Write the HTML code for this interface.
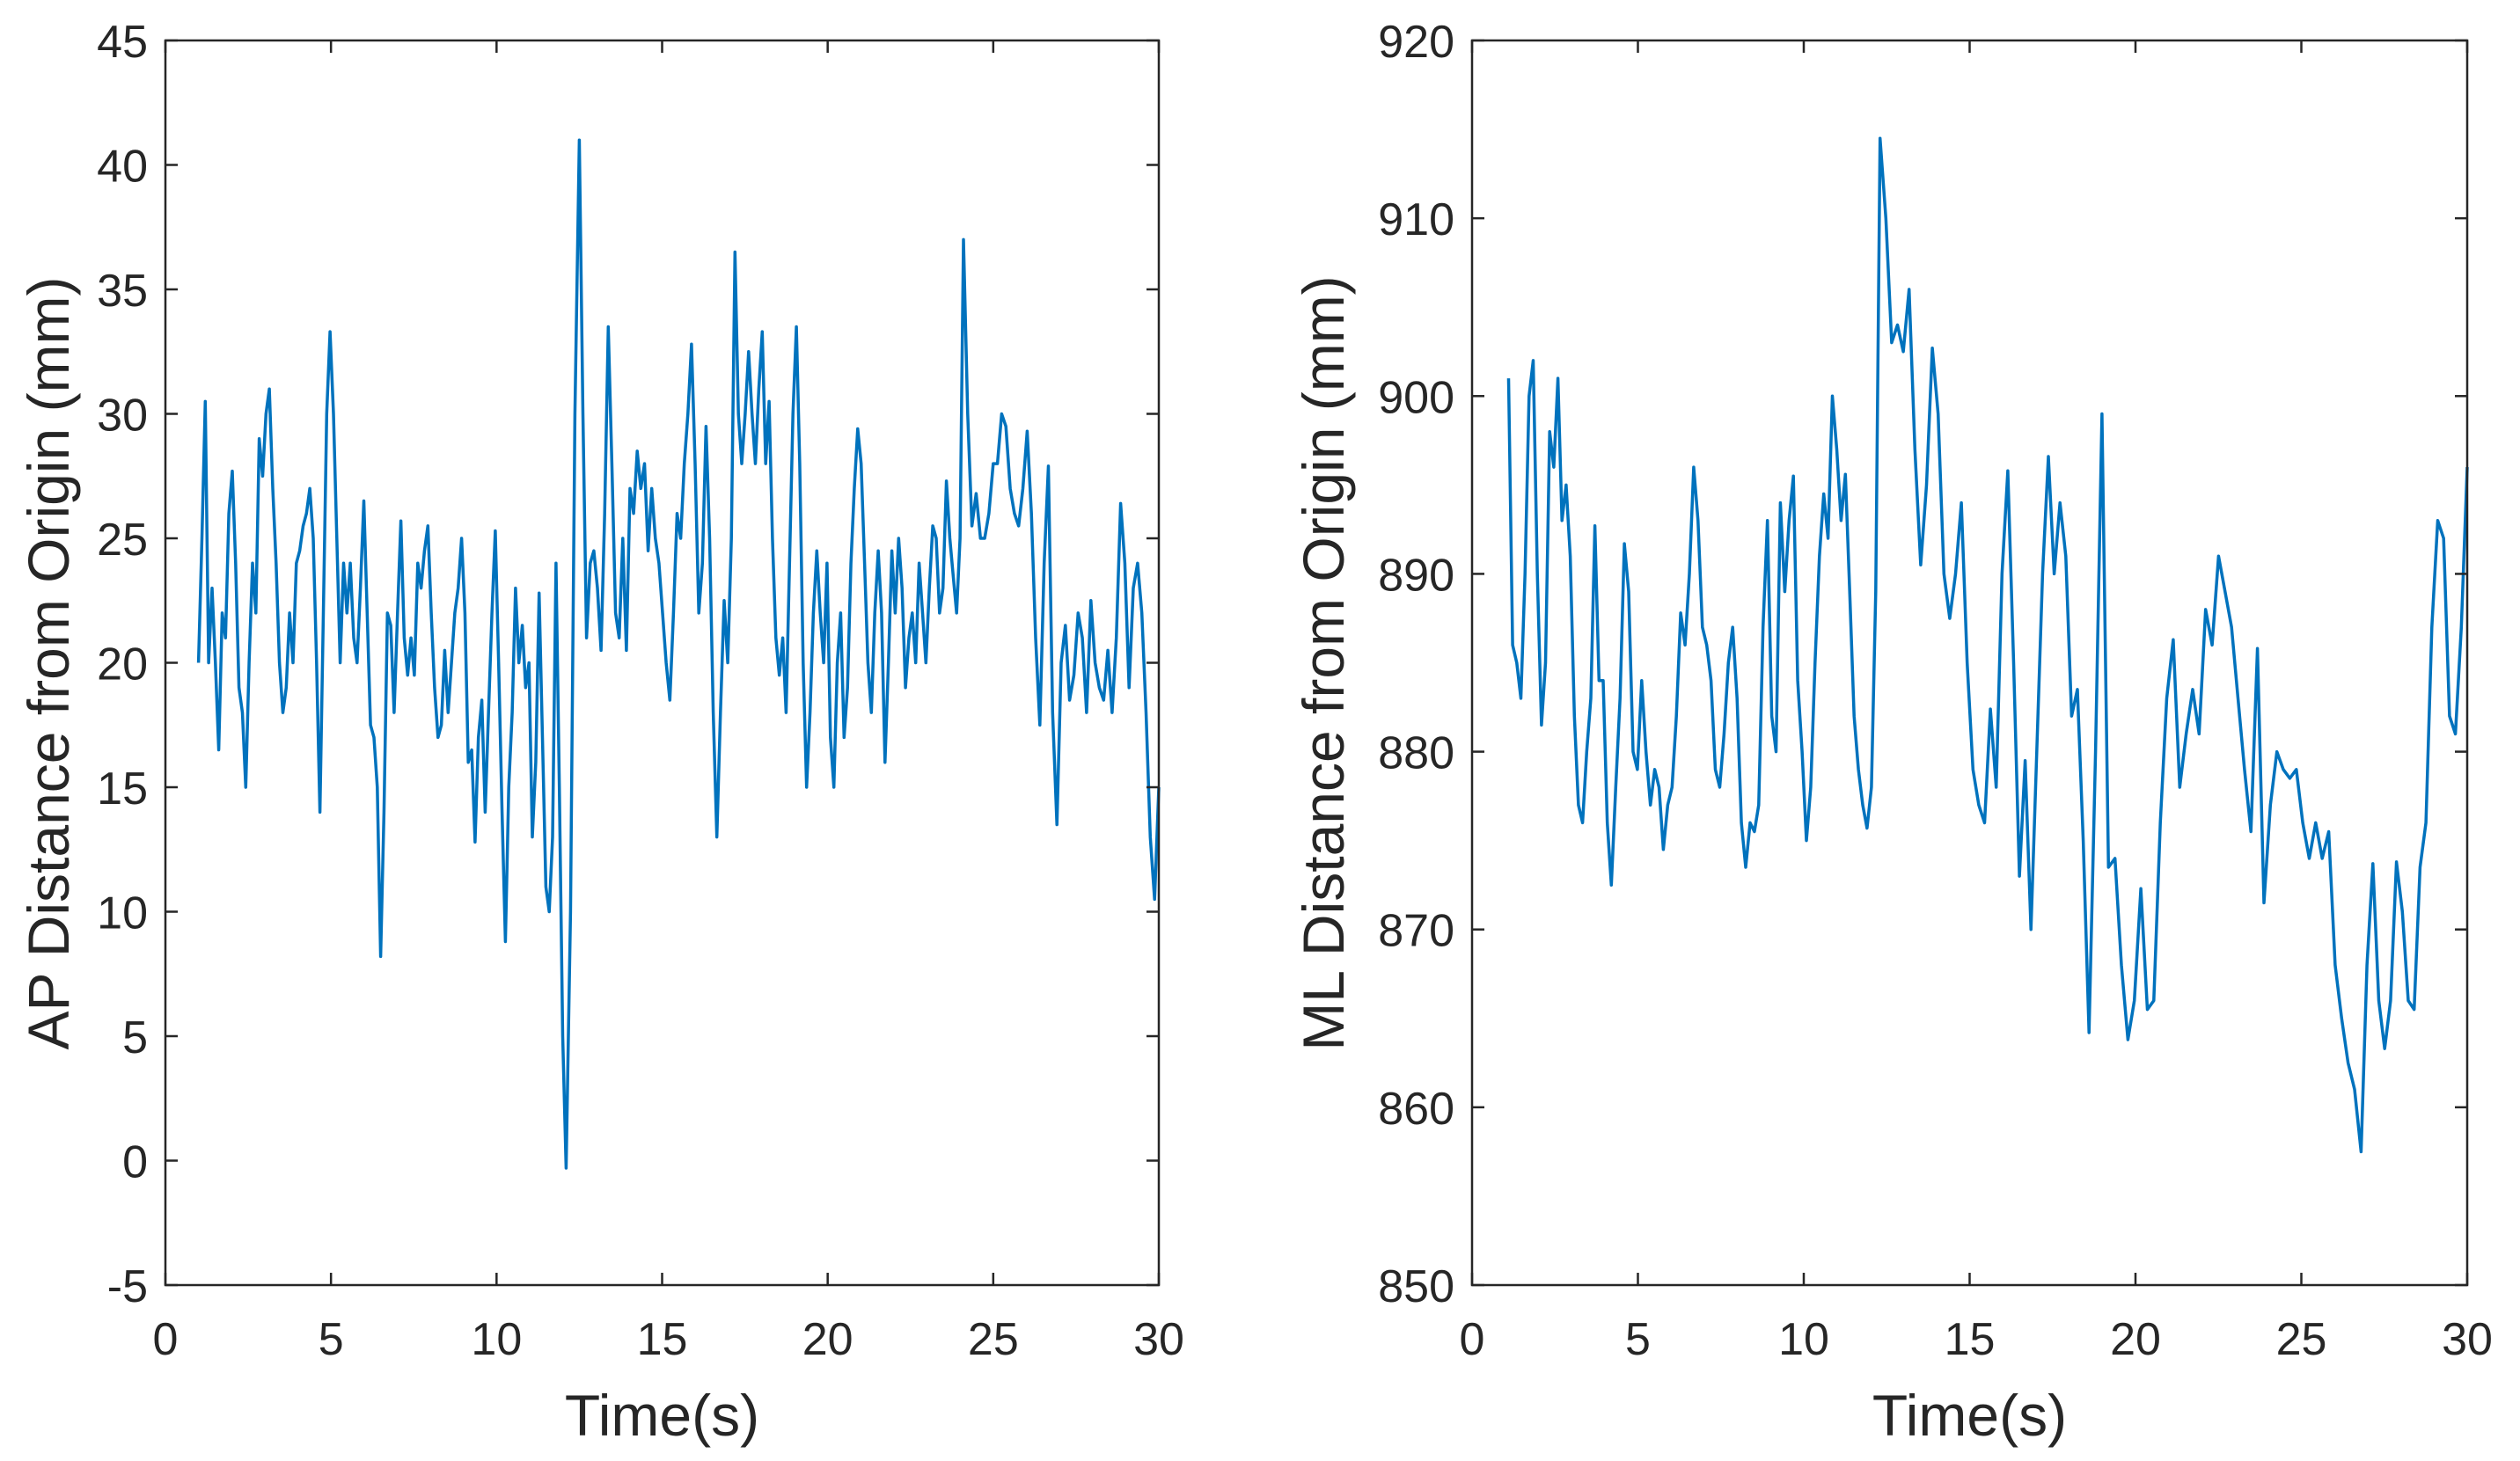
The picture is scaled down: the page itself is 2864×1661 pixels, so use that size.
<!DOCTYPE html>
<html><head><meta charset="utf-8"><style>
html,body{margin:0;padding:0;background:#fff;}
svg text{font-family:"Liberation Sans",Arial,sans-serif;fill:#262626;}
</style></head><body>
<svg id="fig" width="2864" height="1656" viewBox="0 0 2864 1656" xmlns="http://www.w3.org/2000/svg">
<rect width="2864" height="1656" fill="#fff"/>
<g id="left"></g>
<g id="right"></g>
</svg>
<script>
// AP series (one every sample index)
const apValues=[20,25,30.5,20,23,20,16.5,22,21,26,27.7,24,19,18,15,20,24,22,29,27.5,30,31,27,24,20,18,19,22,20,24,24.5,25.5,26,27,25,20,14,22,30,33.3,30,25,20,24,22,24,21,20,23,26.5,22,17.5,17,15,8.2,14,22,21.5,18,22,25.7,21,19.5,21,19.5,24,23,24.5,25.5,22,19,17,17.5,20.5,18,20,22,23,25,22,16,16.5,12.8,17,18.5,14,18,22,25.3,20,14,8.8,15,18,23,20,21.5,19,20,13,16,22.8,17,11,10,13,24,15,5,-0.3,10,30,41,30,21,24,24.5,23,20.5,26,33.5,28,22,21,25,20.5,27,26,28.5,27,28,24.5,27,25,24,22,20,18.5,22,26,25,28,30,32.8,28,22,24,29.5,25,18,13,18,22.5,20,25,36.5,30,28,30,32.5,30,28,31,33.3,28,30.5,25,21,19.5,21,18,24,30,33.5,28,20,15,18,22,24.5,22,20,24,17,15,20,22,17,19,24,27,29.4,28,24,20,18,22,24.5,22,16,20,24.5,22,25,23,19,21,22,20,24,22,20,23,25.5,25,22,23,27.3,25,23.5,22,25,37,30,25.5,26.8,25,25,26,28,28,30,29.5,27,26,25.5,27,29.3,26,21,17.5,24,27.9,18,13.5,20,21.5,18.5,19.5,22,21,18,22.5,20,19,18.5,20.5,18,21,26.4,24,19,23,24,22,18,13,10.5,15];
const apAnchorIdx=[0,54,109,112,155,222,268];
const apAnchorT=[1.0,6.5,12.1,12.5,17.2,24.1,30];
const apYTicks=[-5,0,5,10,15,20,25,30,35,40,45];
// ML series
const mlValues=[901,886,885,883,890,900,902,890,881.5,885,898,896,901,893,895,891,882,877,876,880,883,892.7,884,884,876,872.5,878,883,891.7,889,880,879,884,880,877,879,878,874.5,877,878,882,887.8,886,890,896,893,887,886,884,879,878,881,885,887,883,876,873.5,876,875.5,877,887,893,882,880,894,889,893,895.5,884,880,875,878,885,891,894.5,892,900,897,893,895.6,889,882,879,877,875.7,878,889,914.5,910,903,904,902.5,906,897,890.5,895,902.7,899,890,887.5,890,894,885,879,877,876,882.4,878,890,895.8,885,873,879.5,870,880,890,896.6,890,894,891,882,883.5,875,864.2,880,899,873.5,874,868,863.8,866,872.3,865.5,866,876,883,886.3,878,881,883.5,881,888,886,891,889,887,883,879,875.5,885.8,871.5,877,880,879,878.5,879,876,874,876,874,875.5,868,865,862.5,861,857.5,868,873.7,866,863.3,866,873.8,871,866,865.5,873.5,876,887,893,892,882,881,887,896];
const mlAnchorIdx=[0,25,87,123,165,183];
const mlAnchorT=[1.1,4.2,12.3,18.6,26.8,30];
const mlYTicks=[850,860,870,880,890,900,910,920];
const xTicks=[0,5,10,15,20,25,30];

const NS="http://www.w3.org/2000/svg";
function mk(parent,tag,attrs){const e=document.createElementNS(NS,tag);for(const k in attrs)e.setAttribute(k,attrs[k]);parent.appendChild(e);return e;}
function timeFor(i,ai,at){for(let k=0;k<ai.length-1;k++){if(i<=ai[k+1]){return at[k]+(at[k+1]-at[k])*(i-ai[k])/(ai[k+1]-ai[k]);}}return at[at.length-1];}

function draw(g,box,values,ai,at,yTicks,yTitle,prefix){
  const [x0,x1,yT,yB]=box;const ymin=yTicks[0],ymax=yTicks[yTicks.length-1];
  const sx=t=>x0+(t-0)/30*(x1-x0);
  const sy=v=>yB-(v-ymin)/(ymax-ymin)*(yB-yT);
  let d="";values.forEach((v,i)=>{d+=(i?"L":"M")+sx(timeFor(i,ai,at)).toFixed(1)+","+sy(v).toFixed(1);});
  const p=mk(g,"path",{d:d,fill:"none",stroke:"#0072BD","stroke-width":3.5,"stroke-linejoin":"round"});
  
  
  const r=mk(g,"rect",{x:x0,y:yT,width:x1-x0,height:yB-yT,fill:"none",stroke:"#262626","stroke-width":2.5});
  
  
  xTicks.forEach(t=>{
    const x=sx(t);
    mk(g,"line",{x1:x,x2:x,y1:yB,y2:yB-14,stroke:"#262626","stroke-width":2.5});
    mk(g,"line",{x1:x,x2:x,y1:yT,y2:yT+14,stroke:"#262626","stroke-width":2.5});
    const tx=mk(g,"text",{x:x,y:1540,"font-size":52,"text-anchor":"middle"});tx.textContent=t;
    
    
  });
  yTicks.forEach(v=>{
    const y=sy(v);
    mk(g,"line",{x1:x0,x2:x0+14,y1:y,y2:y,stroke:"#262626","stroke-width":2.5});
    mk(g,"line",{x1:x1,x2:x1-14,y1:y,y2:y,stroke:"#262626","stroke-width":2.5});
    const tx=mk(g,"text",{x:x0-20,y:y+19,"font-size":52,"text-anchor":"end"});tx.textContent=v;
    
    
  });
  const xt=mk(g,"text",{x:(x0+x1)/2,y:1632,"font-size":66,"text-anchor":"middle"});xt.textContent="Time(s)";
  
  
  const tx0=prefix==="ap"?78:1527;
  const yt=mk(g,"text",{x:tx0,y:754,"font-size":66,"text-anchor":"middle",transform:"rotate(-90 "+tx0+" 754)"});yt.textContent=yTitle;
  
  
}
draw(document.getElementById("left"),[188,1317,46,1461],apValues,apAnchorIdx,apAnchorT,apYTicks,"AP Distance from Origin (mm)","ap");
draw(document.getElementById("right"),[1673,2804,46,1461],mlValues,mlAnchorIdx,mlAnchorT,mlYTicks,"ML Distance from Origin (mm)","ml");
</script>
</body></html>
